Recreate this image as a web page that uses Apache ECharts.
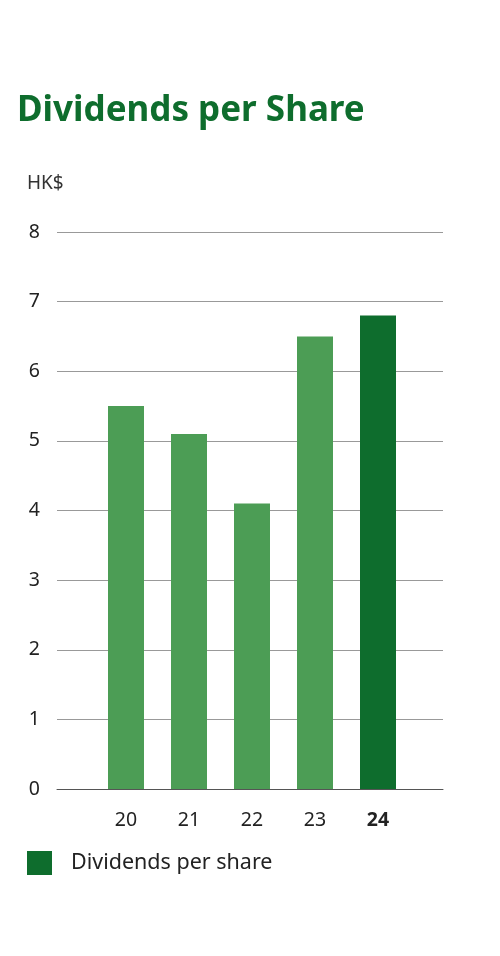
<!DOCTYPE html>
<html lang="en">
<head>
  <meta charset="UTF-8">
  <title>Dividends per Share</title>
  <style>
    html, body { margin: 0; padding: 0; background: #fff; }
    #chart { width: 500px; height: 956px; }
  </style>
</head>
<body>
  <div id="chart"></div>

  <script src="https://cdn.jsdelivr.net/npm/echarts@6/dist/echarts.min.js"></script>
  <script>
    // data
    const years = ['20', '21', '22', '23', '24'];
    const dividends = [5.5, 5.1, 4.1, 6.5, 6.8];
    const yTicks = [0, 1, 2, 3, 4, 5, 6, 7, 8];

    const lightGreen = '#4c9d55';
    const darkGreen = '#0e6d2d';
    const font = 'Noto Sans';

    const chart = echarts.init(document.getElementById('chart'));

    const option = {
      animation: false,
      title: {
        text: 'Dividends per Share',
        left: 12,
        top: 89,
        textStyle: { fontFamily: font, fontSize: 35, fontWeight: 'bold', color: darkGreen }
      },
      graphic: [{
        type: 'text',
        left: 27,
        top: 174,
        style: { text: 'HK$', fontFamily: font, fontSize: 19, fill: '#333' }
      }],
      legend: {
        data: ['Dividends per share'],
        left: 22,
        top: 846,
        icon: 'rect',
        itemWidth: 25,
        itemHeight: 24,
        textStyle: { fontFamily: font, fontSize: 21.5, color: '#222', padding: [0, 0, 0, 14] }
      },
      grid: [
        // gridlines and y labels span the full width
        { left: 57, right: 57, top: 232, bottom: 167 },
        // bars sit in a narrower band
        { left: 94.5, right: 90.5, top: 232, bottom: 167 }
      ],
      xAxis: [
        {
          gridIndex: 0,
          type: 'category',
          data: years,
          axisLine: { lineStyle: { color: '#555', width: 1 } },
          axisTick: { show: false },
          axisLabel: { show: false }
        },
        {
          gridIndex: 1,
          type: 'category',
          data: years,
          axisLine: { show: false },
          axisTick: { show: false },
          axisLabel: {
            interval: 0,
            margin: 21,
            fontFamily: font,
            fontSize: 19.5,
            color: '#222',
            formatter: (v, i) => i === years.length - 1 ? '{b|' + v + '}' : v,
            rich: { b: { fontFamily: font, fontSize: 19.5, fontWeight: 'bold', color: '#222' } }
          }
        }
      ],
      yAxis: [
        {
          gridIndex: 0,
          type: 'value',
          min: yTicks[0],
          max: yTicks[yTicks.length - 1],
          interval: 1,
          axisLine: { show: false },
          axisTick: { show: false },
          axisLabel: { margin: 17, fontFamily: font, fontSize: 19.5, color: '#222' },
          splitLine: { lineStyle: { color: '#999', width: 1 } }
        },
        {
          gridIndex: 1,
          type: 'value',
          min: yTicks[0],
          max: yTicks[yTicks.length - 1],
          interval: 1,
          show: false,
          splitLine: { show: false }
        }
      ],
      series: [{
        name: 'Dividends per share',
        type: 'bar',
        xAxisIndex: 1,
        yAxisIndex: 1,
        barWidth: 36,
        itemStyle: { color: darkGreen },
        data: dividends.map((v, i) => ({
          value: v,
          itemStyle: { color: i === dividends.length - 1 ? darkGreen : lightGreen }
        }))
      }]
    };

    chart.setOption(option);
  </script>
</body>
</html>
